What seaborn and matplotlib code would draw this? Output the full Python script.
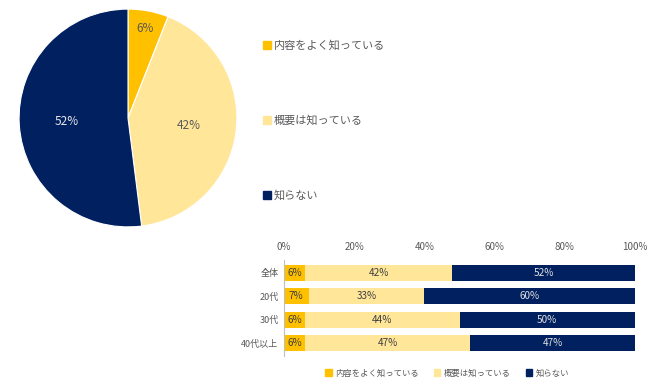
import numpy as np
import pandas as pd
import matplotlib.pyplot as plt
import seaborn as sns

# data
answers = ['内容をよく知っている', '概要は知っている', '知らない']
pie_values = [6, 42, 52]

groups = ['全体', '20代', '30代', '40代以上']
know_well = [6, 7, 6, 6]
know_outline = [42, 33, 44, 47]
dont_know = [52, 60, 50, 47]

colors = ['#FFC000', '#FFE699', '#002060']
text_grey = '#595959'

sns.set_theme(style='white')
plt.rcParams['font.family'] = ['Noto Sans CJK JP', 'DejaVu Sans']

fig = plt.figure(figsize=(6.5, 3.8), dpi=100)

# ---- pie ----
ax_pie = fig.add_axes([18 / 650, 1 - 228 / 380, 220 / 650, 220 / 380])
wedges, texts, autotexts = ax_pie.pie(
    pie_values, colors=colors, startangle=90, counterclock=False,
    autopct='%d%%', pctdistance=0.56,
    wedgeprops=dict(edgecolor='white', linewidth=0.8),
    textprops=dict(fontsize=8.5, color=text_grey))
# small slice label sits further out
x, y = autotexts[0].get_position()
autotexts[0].set_position((x / 0.56 * 0.84, y / 0.56 * 0.84))
autotexts[2].set_color('#E8E8E8')
ax_pie.set_xlim(-1.01, 1.01)
ax_pie.set_ylim(-1.01, 1.01)
ax_pie.set_aspect('equal')

# pie legend (vertical, widely spaced)
for i, lab in enumerate(answers):
    yy = 1 - (45 + 75 * i) / 380
    fig.patches.append(plt.Rectangle((263 / 650, yy - 4 / 380), 8 / 650, 8 / 380,
                                     transform=fig.transFigure, color=colors[i]))
    fig.text(274 / 650, yy, lab, fontsize=8, color=text_grey, va='center', ha='left')

# ---- stacked bar ----
ax_bar = fig.add_axes([284 / 650, 1 - 356 / 380, 351 / 650, 96 / 380])
df = pd.DataFrame({'group': groups, 'a': know_well, 'b': know_outline, 'c': dont_know})
df['ab'] = df['a'] + df['b']
df['abc'] = df['ab'] + df['c']
for col, c in zip(['abc', 'ab', 'a'], colors[::-1]):
    sns.barplot(data=df, x=col, y='group', color=c, width=0.68, saturation=1,
                ax=ax_bar, orient='h')
for p in ax_bar.patches:
    p.set_linewidth(0)

for i in range(len(groups)):
    segs = [(0, know_well[i]), (know_well[i], know_outline[i]),
            (know_well[i] + know_outline[i], dont_know[i])]
    for j, (left, w) in enumerate(segs):
        c = '#E0E0E0' if j == 2 else '#404040'
        ax_bar.text(left + w / 2, i, f'{w}%', ha='center', va='center', fontsize=7.2, color=c)

ax_bar.set_xlim(0, 100)
ax_bar.set_ylim(3.55, -0.55)
ax_bar.xaxis.tick_top()
ax_bar.set_xticks(np.arange(0, 101, 20))
ax_bar.set_xticklabels([f'{v}%' for v in range(0, 101, 20)])
ax_bar.tick_params(axis='x', length=0, labelsize=7, labelcolor=text_grey, pad=6)
ax_bar.tick_params(axis='y', length=0, labelsize=6.5, labelcolor=text_grey, pad=4)
ax_bar.set_xlabel('')
ax_bar.set_ylabel('')
for s in ['top', 'right', 'bottom']:
    ax_bar.spines[s].set_visible(False)
ax_bar.spines['left'].set_color('#BFBFBF')
ax_bar.spines['left'].set_linewidth(0.8)

handles = [plt.Rectangle((0, 0), 1, 1, color=c) for c in colors]
fig.legend(handles, answers, loc='center', bbox_to_anchor=(447 / 650, 1 - 373 / 380),
           ncol=3, frameon=False, fontsize=6, handlelength=0.8, handleheight=0.8,
           handletextpad=0.4, columnspacing=1.8, labelcolor=text_grey)

fig.savefig('out.png', dpi=100)
